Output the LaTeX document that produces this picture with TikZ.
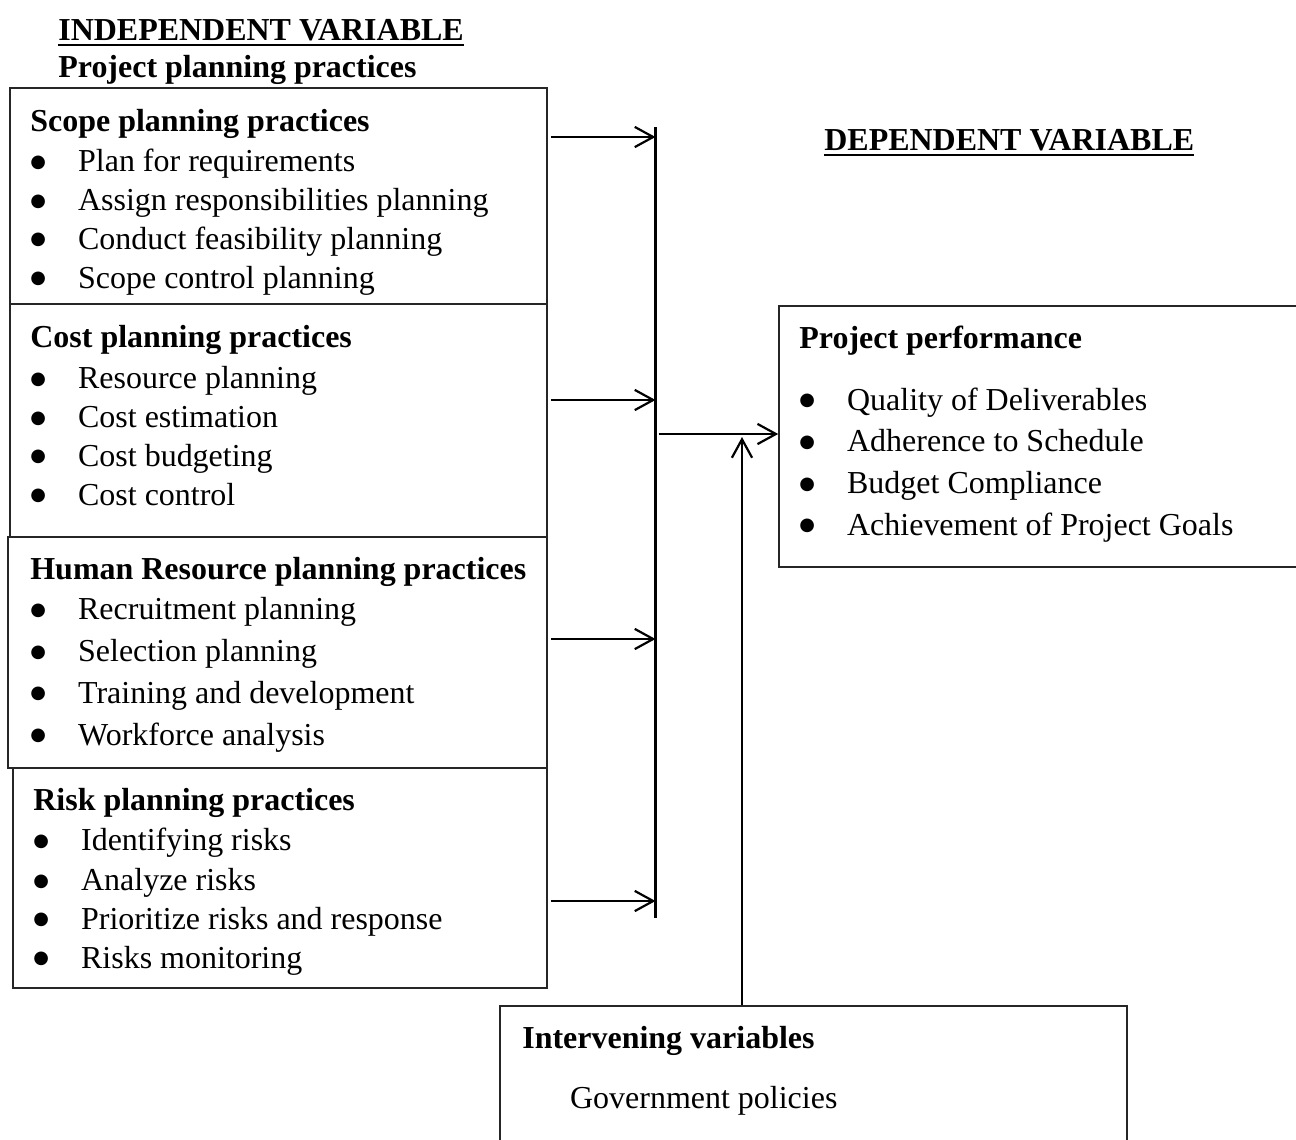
\documentclass[tikz,border=0pt]{standalone}
\usepackage{fontspec}
\setmainfont{Liberation Serif}
\newfontfamily\dotfont{DejaVu Sans}
\usetikzlibrary{arrows.meta, positioning, fit, calc}
\newcommand{\itm}[2][0pt]{\makebox[27.2pt][l]{\hspace{#1}\raisebox{2.6pt}{\dotfont\fontsize{10.2}{10.2}\selectfont ●}}#2}
\newcommand{\ulhead}[1]{\setbox0\hbox{#1}\rlap{\rule[-2.6pt]{\wd0}{1.1pt}}\box0}

\begin{document}
\begin{tikzpicture}[x=0.02cm, y=-0.02cm, font=\fontsize{18.2}{22.1}\selectfont,
    box/.style={draw=black!85, line width=0.9pt, inner sep=0pt},
    list/.style={anchor=north west, align=left, inner sep=0pt},
    feed/.style={-{Straight Barb[length=10.5pt, width=11.5pt]}, line width=1.25pt}]
  \useasboundingbox (0,0) rectangle (1296,1140);

  % headings
  \node[list] (indep) at (58,19.5) {\ulhead{\textbf{INDEPENDENT VARIABLE}}};
  \node[list] (ppp) at (58,55) {\textbf{Project planning practices}};
  \node[list] (dep) at (824,129.5) {\ulhead{\textbf{DEPENDENT VARIABLE}}};

  % planning practice boxes
  \node[box, fit={(10,88) (547,304)}] (scope) {};
  \node[box, fit={(10,304) (547,537)}] (cost) {};
  \node[box, fit={(8,537) (547,768)}] (hr) {};
  \node[box, fit={(13,768) (547,988)}] (risk) {};

  \node[list] (scopetxt) at (30,108.5) {\textbf{Scope planning practices}\\[1.1pt]
    \itm{Plan for requirements}\\ \itm{Assign responsibilities planning}\\
    \itm{Conduct feasibility planning}\\ \itm{Scope control planning}};
  \node[list] (costtxt) at (30,324.5) {\textbf{Cost planning practices}\\[1.7pt]
    \itm{Resource planning}\\ \itm{Cost estimation}\\
    \itm{Cost budgeting}\\ \itm{Cost control}};
  \node[list] (hrtxt) at (30,556.5) {\textbf{Human Resource planning practices}\\[1.1pt]
    \itm{Recruitment planning}\\[1.7pt] \itm{Selection planning}\\[1.7pt]
    \itm{Training and development}\\[1.7pt] \itm{Workforce analysis}};
  \node[list] (risktxt) at (33,787.5) {\textbf{Risk planning practices}\\[1.1pt]
    \itm{Identifying risks}\\[0.6pt] \itm{Analyze risks}\\
    \itm{Prioritize risks and response}\\ \itm{Risks monitoring}};

  % outcome and intervening boxes
  \node[box, fit={(779,306) (1310,567)}] (perf) {};
  \node[list] (perftxt) at (799,325.5) {\textbf{Project performance}\\[13pt]
    \itm{Quality of Deliverables}\\[1.7pt] \itm{Adherence to Schedule}\\[1.7pt]
    \itm{Budget Compliance}\\[1.7pt] \itm{Achievement of Project Goals}};
  \node[box, fit={(500,1006) (1127,1160)}] (interv) {};
  \node[list] (intervtxt) at (522,1025.5) {\textbf{Intervening variables}\\[12.5pt]
    \hspace*{27.2pt}Government policies};

  % collector bar and arrows
  \coordinate (bartop) at (655.5,127);
  \coordinate (barbot) at (655.5,918);
  \coordinate (join) at (742,434);
  \draw[line width=1.25pt] (bartop) -- (barbot);
  \foreach \b/\y in {scope/137, cost/400, hr/639, risk/901}
    \draw[feed] ($(\b.east |- 0,\y)+(3,0)$) -- (bartop |- 0,\y);
  \draw[feed] ($(bartop |- join)+(3,0)$) -- (perf.west |- join);
  \draw[feed] (interv.north -| join) -- ($(join)+(0,3)$);
\end{tikzpicture}
\end{document}
